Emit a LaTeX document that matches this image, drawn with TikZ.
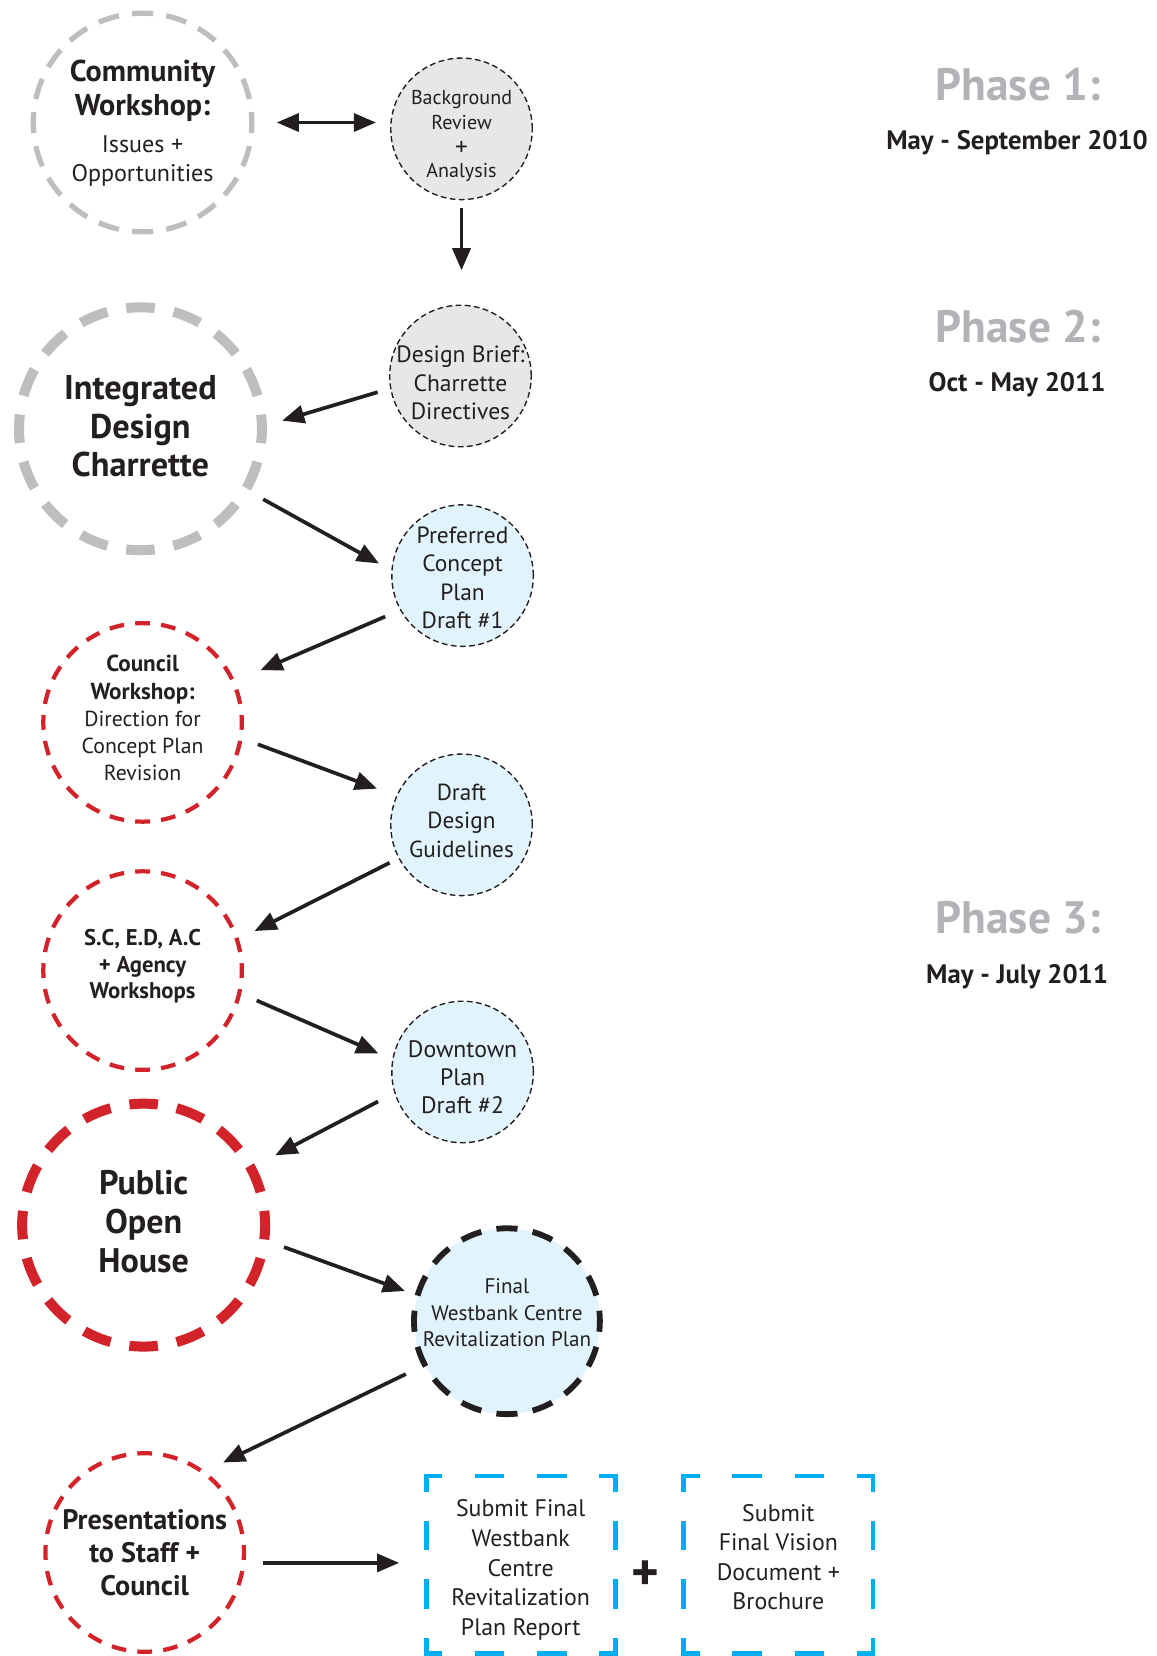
\documentclass[tikz,border=0pt]{standalone}
\usepackage{fontspec}
\setmainfont{PT Sans}
\usetikzlibrary{arrows.meta}
\definecolor{cwgray}{HTML}{BCBEC0}
\definecolor{phgray}{HTML}{B1B3B6}
\definecolor{redc}{HTML}{D2232A}
\definecolor{cyanc}{HTML}{00AEEF}
\definecolor{lblue}{HTML}{E1F3FC}
\definecolor{lgray}{HTML}{E6E7E8}
\definecolor{ink}{HTML}{231F20}
\newcommand{\boldline}[2]{{\bfseries\fontsize{#1}{#1}\selectfont #2}}
\begin{document}
\begin{tikzpicture}[x=1pt,y=-1pt,
  every node/.style={text=ink, inner sep=0pt, outer sep=0pt, align=center},
  cwc/.style={circle, draw=cwgray, line width=5pt, dash pattern=on 20pt off 12.52pt, dash phase=10pt, minimum size=207pt},
  thickc/.style={circle, draw=#1, line width=9.5pt, dash pattern=on 27pt off 18.16pt, dash phase=13.5pt, minimum size=230pt},
  redc/.style={circle, draw=redc, line width=4pt, dash pattern=on 14pt off 10.61pt, dash phase=7pt, minimum size=188pt},
  smallc/.style={circle, draw=ink, fill=#1, line width=1.3pt, dash pattern=on 5.5pt off 3.2pt, minimum size=134pt},
  finalc/.style={circle, draw=ink, fill=lblue, line width=5.5pt, dash pattern=on 20pt off 14.56pt, dash phase=10pt, minimum size=176pt},
  boxn/.style={rectangle, minimum width=179pt, minimum height=168pt},
  boxline/.style={draw=cyanc, line width=4.5pt, line join=miter,
    dash pattern=on 28pt off 31pt on 30pt off 27.33pt on 28pt off 27.33pt on 28pt off 27.33pt on 30pt off 31pt on 28pt off 31pt,
    dash phase=331.5pt},
  arr/.style={draw=ink, line width=3.5pt, -{Triangle[length=21pt,width=17pt]}},
  phase/.style={text=phgray, font=\bfseries\fontsize{43}{43}\selectfont},
  datet/.style={font=\bfseries\fontsize{25.3}{25.3}\selectfont}
]
\useasboundingbox (0,0) rectangle (1095,1568);

% Phase labels
\node[phase] (ph1) at (964,80) {Phase 1:};
\node[datet] (d1) at (963,135) {May - September 2010};
\node[phase] (ph2) at (964,309) {Phase 2:};
\node[datet] (d2) at (963,364) {Oct - May 2011};
\node[phase] (ph3) at (964,869) {Phase 3:};
\node[datet] (d3) at (963,925) {May - July 2011};

% Circles
\node[cwc] (cw) at (135,116) {};
\node[smallc=lgray] (br) at (437,122) {};
\node[thickc=cwgray] (idc) at (133,406) {};
\node[smallc=lgray] (db) at (436,356) {};
\node[smallc=lblue] (pcp) at (438,545) {};
\node[redc] (cow) at (135,684) {};
\node[smallc=lblue] (ddg) at (437,781) {};
\node[redc] (sc) at (135,919) {};
\node[smallc=lblue] (dp) at (438,1015) {};
\node[thickc=redc] (poh) at (136,1160) {};
\node[finalc] (fw) at (480,1251) {};
\node[redc] (psc) at (137,1470) {};

% Circle texts
\node[font=\fontsize{22.8}{28}\selectfont, yshift=-1pt] (cwt) at (cw)
  {\boldline{28.5}{Community}\\[4pt]\boldline{28.5}{Workshop:}\\[6.6pt]Issues +\\Opportunities};
\node[font=\fontsize{19}{23}\selectfont, yshift=-7pt] (brt) at (br)
  {Background\\Review\\[2pt]{\fontsize{24}{24}\selectfont +}\\[-2pt]Analysis};
\node[font=\bfseries\fontsize{32.5}{36.5}\selectfont, yshift=2pt] (idct) at (idc)
  {Integrated\\Design\\Charrette};
\node[font=\fontsize{22.3}{27}\selectfont, yshift=-6.5pt] (dbt) at (db)
  {Design Brief:\\Charrette\\Directives};
\node[font=\fontsize{22.2}{27}\selectfont, yshift=-2pt] (pcpt) at (pcp)
  {Preferred\\Concept\\Plan\\Draft \#1};
\node[font=\fontsize{20.6}{25.75}\selectfont, yshift=4pt] (cowt) at (cow)
  {\boldline{21.9}{Council}\\\boldline{21.9}{Workshop:}\\Direction for\\Concept Plan\\Revision};
\node[font=\fontsize{22}{27}\selectfont, yshift=4pt] (ddgt) at (ddg)
  {Draft\\Design\\Guidelines};
\node[font=\bfseries\fontsize{21.5}{25}\selectfont, yshift=4pt] (sct) at (sc)
  {S.C, E.D, A.C\\+ Agency\\Workshops};
\node[font=\fontsize{22.5}{26.5}\selectfont, yshift=-5pt] (dpt) at (dp)
  {Downtown\\Plan\\Draft \#2};
\node[font=\bfseries\fontsize{32.3}{37}\selectfont, yshift=3pt] (poht) at (poh)
  {Public\\Open\\House};
\node[font=\fontsize{20}{25}\selectfont, yshift=8pt] (fwt) at (fw)
  {Final\\Westbank Centre\\Revitalization Plan};
\node[font=\bfseries\fontsize{26.7}{31.5}\selectfont] (psct) at (psc)
  {Presentations\\to Staff +\\Council};

% Boxes
\node[boxn] (box1) at (493,1481.5) {};
\node[boxn] (box2) at (737,1481.5) {};
\node[font=\fontsize{22.6}{28}\selectfont, yshift=-5pt] (box1t) at (box1)
  {Submit Final\\Westbank\\Centre\\Revitalization\\Plan Report};
\node[font=\fontsize{22.6}{28}\selectfont, yshift=7pt] (box2t) at (box2)
  {Submit\\Final Vision\\Document +\\Brochure};
\draw[boxline] (box1.north) -- (box1.north east) -- (box1.south east) -- (box1.south west) -- (box1.north west) -- cycle;
\draw[boxline] (box2.north) -- (box2.north east) -- (box2.south east) -- (box2.south west) -- (box2.north west) -- cycle;
\node[font=\bfseries\fontsize{50}{50}\selectfont] (plus) at (611,1492) {+};

% Connectors
\draw[arr, {Triangle[length=21pt,width=17pt]}-{Triangle[length=21pt,width=17pt]}, shorten <=23.5pt, shorten >=14pt]
  (cw.0) -- (cw.0 -| br.west);
\draw[arr, shorten <=8pt, shorten >=33pt] (br.south) -- (br.south |- db.north);
\draw[arr, shorten <=13pt, shorten >=20pt] (db.190) -- (idc.1);
\draw[arr, shorten <=19pt, shorten >=14pt] (idc.-30) -- (pcp.176.5);
\draw[arr, shorten <=16pt, shorten >=28pt] (pcp.209.7) -- (cow.24.7);
\draw[arr, shorten <=17.5pt, shorten >=20pt] (cow.-9.3) -- (ddg.156.4);
\draw[arr, shorten <=10pt, shorten >=18.6pt] (ddg.208.5) -- (sc.18.1);
\draw[arr, shorten <=18pt, shorten >=15pt] (sc.-13.4) -- (dp.170.2);
\draw[arr, shorten <=18pt, shorten >=26pt] (dp.197.2) -- (poh.28.7);
\draw[arr, shorten <=20pt, shorten >=12.7pt] (poh.-7.7) -- (fw.164.4);
\draw[arr, shorten <=20pt, shorten >=21pt] (fw.208.2) -- (psc.54.9);
\draw[arr, shorten <=19pt, shorten >=25.5pt] (psc.-6.6) -- (psc.-6.6 -| box1.west);
\end{tikzpicture}
\end{document}
